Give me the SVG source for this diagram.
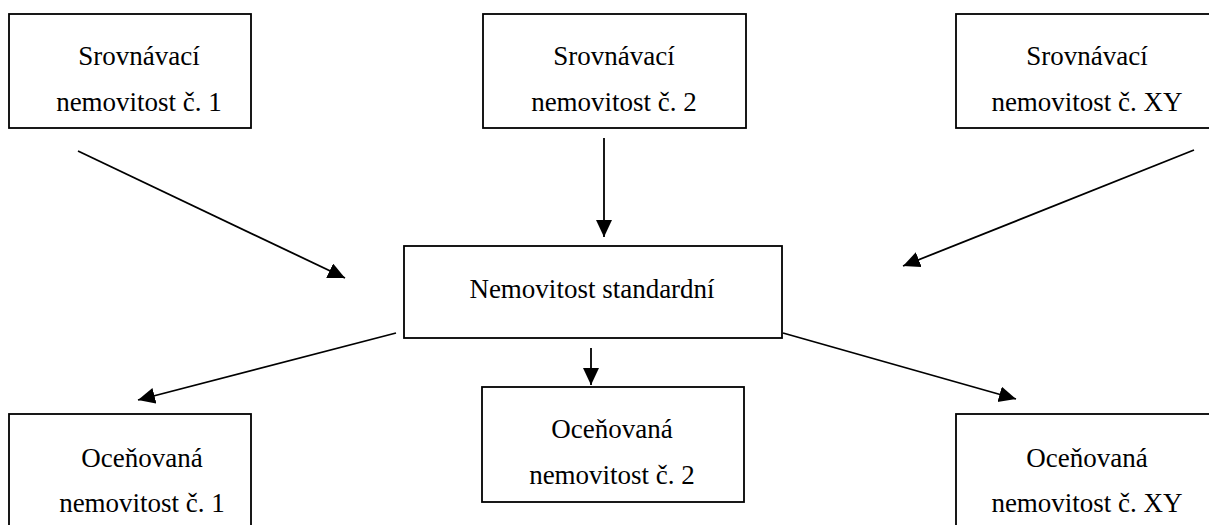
<svg xmlns="http://www.w3.org/2000/svg" width="1209" height="525" viewBox="0 0 1209 525">
<defs>
<style>
.box{fill:#fff;stroke:#000;stroke-width:1.8}
.t{font-family:"Liberation Serif","Times New Roman",serif;font-size:27px;fill:#000;text-anchor:middle}
.c{stroke:#000;stroke-width:1.8;fill:none;marker-end:url(#ah)}
</style>
<marker id="ah" markerUnits="userSpaceOnUse" markerWidth="18" markerHeight="17" refX="17" refY="8" orient="auto">
<path d="M0,0 L17,8 L0,16 z" fill="#000"/>
</marker>
</defs>
<rect width="1209" height="525" fill="#fff"/>
<g id="n1"><rect class="box" x="9" y="14" width="242" height="114"/><text class="t" x="139" y="65">Srovnávací</text><text class="t" x="139" y="111">nemovitost č. 1</text></g>
<g id="n2"><rect class="box" x="483" y="14" width="263" height="114"/><text class="t" x="614" y="65">Srovnávací</text><text class="t" x="614" y="111">nemovitost č. 2</text></g>
<g id="n3"><rect class="box" x="956" y="14" width="262" height="114"/><text class="t" x="1087" y="65">Srovnávací</text><text class="t" x="1087" y="111">nemovitost č. XY</text></g>
<g id="std"><rect class="box" x="404" y="246" width="378" height="92"/><text class="t" x="592" y="298">Nemovitost standardní</text></g>
<g id="o1"><rect class="box" x="9" y="414" width="242" height="120"/><text class="t" x="142" y="467">Oceňovaná</text><text class="t" x="142" y="512">nemovitost č. 1</text></g>
<g id="o2"><rect class="box" x="482" y="387" width="262" height="115"/><text class="t" x="612" y="438">Oceňovaná</text><text class="t" x="612" y="484">nemovitost č. 2</text></g>
<g id="o3"><rect class="box" x="956" y="414" width="262" height="120"/><text class="t" x="1087" y="467">Oceňovaná</text><text class="t" x="1087" y="512">nemovitost č. XY</text></g>
<g id="connectors">
<line class="c" x1="78" y1="151" x2="345" y2="278"/>
<line class="c" x1="604" y1="138" x2="604" y2="237"/>
<line class="c" x1="1194" y1="150" x2="903" y2="266"/>
<line class="c" x1="396" y1="333" x2="138" y2="400"/>
<line class="c" x1="591" y1="348" x2="591" y2="385"/>
<line class="c" x1="783" y1="333" x2="1016" y2="399"/>
</g>
</svg>
